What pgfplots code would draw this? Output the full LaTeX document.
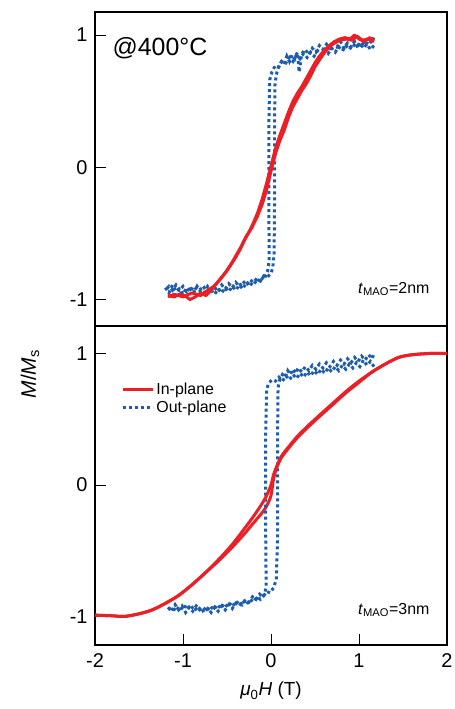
\documentclass[border=0pt]{standalone}
\usepackage{fontspec}
\setmainfont{Liberation Sans}
\usepackage{pgfplots}
\pgfplotsset{compat=1.18}
\usetikzlibrary{calc}
\definecolor{inRed}{RGB}{234,32,38}
\definecolor{outBlue}{RGB}{30,92,172}

\pgfplotsset{
  hyst/.style={
    scale only axis, width=352bp,
    xmin=-2, xmax=2,
    axis line style={line width=1.1bp},
    tick style={line width=0.9bp, black},
    major tick length=11bp,
    tick align=inside,
    xtick pos=bottom, ytick pos=left,
    ytick={-1,0,1},
    tick label style={font=\fontsize{20}{23}\selectfont},
    yticklabel style={xshift=-4bp},
    xticklabel style={yshift=-5bp},
    /pgf/number format/assume math mode=true,
    clip=false,
  },
  inplane/.style={inRed, line width=3bp, line join=round},
  outplane/.style={outBlue, line width=3bp, dash pattern=on 3bp off 3bp},
}

\begin{document}
\begin{tikzpicture}
% top panel: 2 nm
\begin{axis}[hyst, name=top, height=314bp,
  ymin=-1.2, ymax=1.174,
  xtick=\empty]
\addplot[outplane] coordinates {
(-1.20,-0.91) (-1.16,-0.95) (-1.12,-0.89) (-1.08,-0.94) (-1.04,-0.92) (-1.00,-0.96)
(-0.96,-0.91) (-0.92,-0.94) (-0.88,-0.90) (-0.84,-0.93) (-0.80,-0.92) (-0.76,-0.95)
(-0.72,-0.90) (-0.68,-0.93) (-0.64,-0.91) (-0.60,-0.94) (-0.56,-0.89) (-0.52,-0.92)
(-0.48,-0.88) (-0.44,-0.91) (-0.40,-0.87) (-0.36,-0.90) (-0.32,-0.86) (-0.28,-0.89)
(-0.24,-0.85) (-0.20,-0.87) (-0.16,-0.84) (-0.12,-0.86) (-0.08,-0.82) (-0.04,-0.83)
(0.00,-0.80) (0.02,-0.76) (0.035,-0.65) (0.04,-0.3) (0.04,0.3) (0.045,0.62)
(0.06,0.70) (0.09,0.77) (0.12,0.80) (0.15,0.78) (0.18,0.84) (0.21,0.80) (0.24,0.85)
(0.27,0.82) (0.30,0.87) (0.32,0.72) (0.35,0.86) (0.39,0.89) (0.43,0.85) (0.47,0.90)
(0.51,0.87) (0.55,0.92) (0.59,0.89) (0.63,0.93) (0.67,0.90) (0.71,0.94) (0.75,0.91)
(0.79,0.95) (0.83,0.90) (0.87,0.94) (0.91,0.91) (0.95,0.95) (0.99,0.90) (1.03,0.95)
(1.07,0.92) (1.11,0.96) (1.15,0.94) (1.17,0.99)
};
\addplot[outplane] coordinates {
(1.17,0.92) (1.13,0.89) (1.09,0.93) (1.05,0.90) (1.01,0.94) (0.97,0.91) (0.93,0.93)
(0.89,0.89) (0.85,0.92) (0.81,0.88) (0.77,0.91) (0.73,0.87) (0.69,0.90) (0.65,0.86)
(0.61,0.89) (0.57,0.85) (0.53,0.88) (0.49,0.84) (0.45,0.87) (0.41,0.83) (0.37,0.86)
(0.33,0.82) (0.29,0.85) (0.25,0.80) (0.21,0.83) (0.17,0.79) (0.13,0.81) (0.09,0.76)
(0.05,0.77) (0.01,0.72) (-0.015,0.66) (-0.025,0.3) (-0.025,-0.3) (-0.02,-0.70)
(-0.04,-0.79) (-0.08,-0.85) (-0.12,-0.83) (-0.16,-0.88) (-0.20,-0.86) (-0.24,-0.90)
(-0.28,-0.87) (-0.32,-0.92) (-0.36,-0.89) (-0.40,-0.93) (-0.44,-0.90) (-0.48,-0.94)
(-0.52,-0.91) (-0.56,-0.95) (-0.60,-0.92) (-0.64,-0.96) (-0.68,-0.93) (-0.72,-0.95)
(-0.76,-0.91) (-0.80,-0.94) (-0.84,-0.90) (-0.88,-0.95) (-0.92,-0.92) (-0.96,-0.94)
(-1.00,-0.90) (-1.04,-0.93) (-1.08,-0.89) (-1.12,-0.93) (-1.16,-0.90) (-1.20,-0.93)
};
\addplot[inplane] coordinates {
(-1.17,-0.98) (-1.10,-0.96) (-1.00,-0.98) (-0.90,-0.95) (-0.80,-0.97) (-0.72,-0.93)
(-0.65,-0.90) (-0.58,-0.85) (-0.52,-0.80) (-0.46,-0.74) (-0.40,-0.67) (-0.34,-0.60)
(-0.28,-0.52) (-0.22,-0.46) (-0.16,-0.38) (-0.10,-0.28) (-0.05,-0.17) (0.00,-0.03)
(0.05,0.10) (0.10,0.20) (0.15,0.28) (0.20,0.38) (0.25,0.46) (0.30,0.52) (0.35,0.58)
(0.40,0.63) (0.45,0.69) (0.50,0.76) (0.55,0.81) (0.60,0.86) (0.65,0.90) (0.70,0.93)
(0.78,0.96) (0.86,0.97) (0.92,0.96) (0.98,0.99) (1.04,0.96) (1.10,0.97) (1.17,0.95)
};
\addplot[inplane] coordinates {
(1.17,0.96) (1.12,0.98) (1.06,0.95) (1.00,0.97) (0.95,1.00) (0.90,0.97) (0.84,0.98)
(0.78,0.97) (0.72,0.95) (0.66,0.92) (0.60,0.88) (0.55,0.84) (0.50,0.79) (0.45,0.73)
(0.40,0.67) (0.35,0.61) (0.30,0.56) (0.25,0.50) (0.20,0.42) (0.15,0.33) (0.10,0.24)
(0.05,0.14) (0.00,0.01) (-0.05,-0.12) (-0.10,-0.24) (-0.15,-0.34) (-0.20,-0.42)
(-0.25,-0.49) (-0.30,-0.55) (-0.35,-0.62) (-0.40,-0.68) (-0.45,-0.73) (-0.50,-0.78)
(-0.56,-0.83) (-0.62,-0.88) (-0.68,-0.93) (-0.74,-0.97) (-0.80,-0.95) (-0.86,-0.98)
(-0.92,-1.00) (-0.98,-0.97) (-1.04,-0.96) (-1.10,-0.98) (-1.17,-0.97)
};
\node[anchor=west, font=\fontsize{25}{28}\selectfont] at (axis cs:-1.84,0.90) {@400°C};
\node[anchor=east, font=\fontsize{16}{19}\selectfont] at (axis cs:1.84,-0.92)
  {\textit{t}\textsubscript{MAO}=2nm};
\end{axis}

% bottom panel: 3 nm
\begin{axis}[hyst, name=bot, height=319bp,
  at={(top.south west)}, anchor=north west,
  ymin=-1.217, ymax=1.209,
  xtick={-2,-1,0,1,2},
  xlabel={\textit{μ}\textsubscript{0}\textit{H} (T)},
  xlabel style={font=\fontsize{19}{22}\selectfont, at={(axis description cs:0.5,0)},
    anchor=center, yshift=-46bp},
  legend style={draw=none, fill=none, at={(0.066,0.835)}, anchor=north west,
    font=\fontsize{16}{19}\selectfont, row sep=1bp,
    /tikz/every even column/.append style={column sep=3bp}},
  legend image code/.code={\draw[#1] (0bp,0bp) -- (30bp,0bp);},
  legend cell align=left]
\addplot[inplane, smooth] coordinates {
(-2.00,-0.99) (-1.80,-0.995) (-1.67,-1.00) (-1.50,-0.98) (-1.35,-0.95) (-1.20,-0.90)
(-1.05,-0.84) (-0.90,-0.76) (-0.75,-0.67) (-0.60,-0.58) (-0.45,-0.48) (-0.30,-0.37)
(-0.20,-0.29) (-0.10,-0.21) (-0.05,-0.16) (0.00,-0.08) (0.03,0.05) (0.07,0.14)
(0.12,0.21) (0.20,0.28) (0.30,0.36) (0.42,0.44) (0.55,0.52) (0.70,0.61) (0.85,0.70)
(1.00,0.78) (1.15,0.86) (1.30,0.92) (1.45,0.97) (1.60,0.99) (1.80,1.00) (2.00,1.00)
};
\addlegendentry{In-plane}
\addplot[outplane] coordinates {
(-1.17,-0.93) (-1.13,-0.96) (-1.09,-0.91) (-1.05,-0.95) (-1.01,-0.92) (-0.97,-0.97)
(-0.93,-0.93) (-0.89,-0.96) (-0.85,-0.92) (-0.81,-0.95) (-0.77,-0.93) (-0.73,-0.96)
(-0.69,-0.92) (-0.65,-0.95) (-0.61,-0.91) (-0.57,-0.94) (-0.53,-0.90) (-0.49,-0.93)
(-0.45,-0.89) (-0.41,-0.92) (-0.37,-0.88) (-0.33,-0.91) (-0.29,-0.87) (-0.25,-0.89)
(-0.21,-0.85) (-0.17,-0.87) (-0.13,-0.83) (-0.09,-0.85) (-0.05,-0.81) (-0.01,-0.82)
(0.03,-0.78) (0.06,-0.72) (0.075,-0.4) (0.075,0.4) (0.08,0.74) (0.10,0.80)
(0.13,0.84) (0.16,0.82) (0.19,0.87) (0.22,0.84) (0.25,0.88) (0.28,0.85) (0.31,0.89)
(0.35,0.86) (0.39,0.90) (0.43,0.87) (0.47,0.91) (0.51,0.88) (0.55,0.92) (0.59,0.89)
(0.63,0.93) (0.67,0.90) (0.71,0.94) (0.75,0.91) (0.79,0.95) (0.83,0.92) (0.87,0.96)
(0.91,0.93) (0.95,0.97) (0.99,0.94) (1.03,0.98) (1.07,0.95) (1.11,0.99) (1.15,0.96)
(1.17,1.00)
};
\addlegendentry{Out-plane}
\addplot[outplane, forget plot] coordinates {
(1.17,0.90) (1.13,0.94) (1.09,0.91) (1.05,0.95) (1.01,0.90) (0.97,0.93) (0.93,0.89)
(0.89,0.92) (0.85,0.88) (0.81,0.91) (0.77,0.87) (0.73,0.90) (0.69,0.86) (0.65,0.89)
(0.61,0.85) (0.57,0.88) (0.53,0.84) (0.49,0.87) (0.45,0.83) (0.41,0.86) (0.37,0.82)
(0.33,0.85) (0.29,0.81) (0.25,0.84) (0.21,0.80) (0.17,0.83) (0.13,0.79) (0.09,0.82)
(0.05,0.79) (0.01,0.80) (-0.03,0.77) (-0.05,0.72) (-0.06,0.4) (-0.06,-0.4)
(-0.055,-0.78) (-0.08,-0.84) (-0.12,-0.87) (-0.16,-0.85) (-0.20,-0.89) (-0.24,-0.87)
(-0.28,-0.91) (-0.32,-0.88) (-0.36,-0.92) (-0.40,-0.90) (-0.44,-0.94) (-0.48,-0.91)
(-0.52,-0.95) (-0.56,-0.92) (-0.60,-0.96) (-0.64,-0.93) (-0.68,-0.97) (-0.72,-0.94)
(-0.76,-0.97) (-0.80,-0.93) (-0.84,-0.96) (-0.88,-0.92) (-0.92,-0.95) (-0.96,-0.91)
(-1.00,-0.95) (-1.04,-0.92) (-1.08,-0.96) (-1.12,-0.93) (-1.17,-0.95)
};
\addplot[inplane, smooth, forget plot] coordinates {
(-2.00,-0.99) (-1.80,-0.995) (-1.67,-1.00) (-1.50,-0.98) (-1.35,-0.95) (-1.20,-0.90)
(-1.05,-0.84) (-0.90,-0.76) (-0.75,-0.67) (-0.60,-0.57) (-0.45,-0.46) (-0.30,-0.33)
(-0.20,-0.24) (-0.10,-0.14) (-0.05,-0.08) (0.00,0.00) (0.03,0.08) (0.07,0.15)
(0.12,0.22) (0.20,0.29) (0.30,0.37) (0.42,0.45) (0.55,0.53) (0.70,0.62) (0.85,0.71)
(1.00,0.79) (1.15,0.86) (1.30,0.92) (1.45,0.97) (1.60,0.99) (1.80,1.00) (2.00,1.00)
};
\node[anchor=east, font=\fontsize{16}{19}\selectfont] at (axis cs:1.84,-0.95)
  {\textit{t}\textsubscript{MAO}=3nm};
\end{axis}

\node[rotate=90, font=\fontsize{21}{24}\selectfont] at ($(top.south west)+(-65bp,-48bp)$)
  {\textit{M}/\textit{M}\textsubscript{s}};

\pgfresetboundingbox
\path[use as bounding box] ($(top.north west)+(-95bp,12bp)$) rectangle ($(bot.south east)+(8bp,-64bp)$);
\end{tikzpicture}
\end{document}
